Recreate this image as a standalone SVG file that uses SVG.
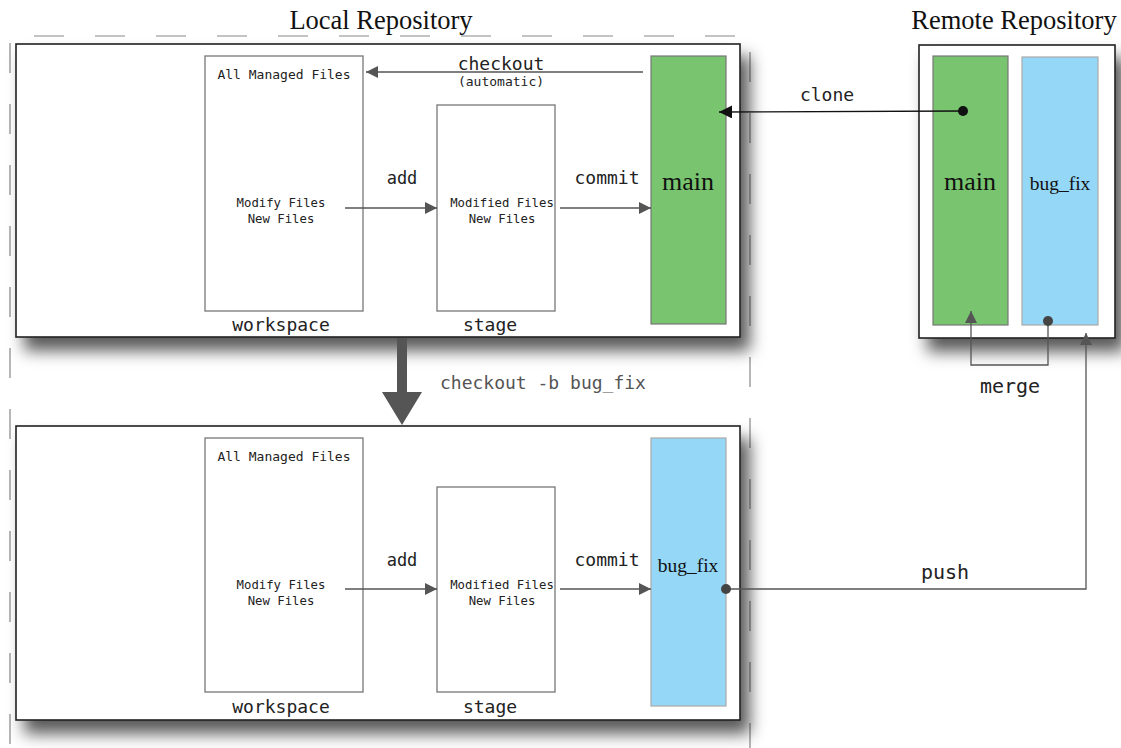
<svg xmlns="http://www.w3.org/2000/svg" width="1121" height="748" viewBox="0 0 1121 748">
<style>
.mono{font-family:"DejaVu Sans Mono",monospace;fill:#222}
.serif{font-family:"Liberation Serif","Times New Roman",serif;fill:#111}
.frame{fill:#fff;stroke:#222;stroke-width:1.6}
.box{fill:#fff;stroke:#777;stroke-width:1.3}
.green{fill:#78c46f;stroke:#777;stroke-width:1.2}
.blue{fill:#94d7f6;stroke:#aaa;stroke-width:1.2}
.conn{fill:none;stroke:#555;stroke-width:1.3}
</style>
<defs>
<filter id="sh" x="-10%" y="-10%" width="130%" height="150%">
<feDropShadow dx="9" dy="13" stdDeviation="8" flood-color="#000" flood-opacity="0.65"/>
</filter>
<marker id="ah" viewBox="0 0 10 10" refX="10" refY="5" markerWidth="12" markerHeight="12" markerUnits="userSpaceOnUse" orient="auto">
<path d="M0,0 L10,5 L0,10 z" fill="#555"/>
</marker>
<marker id="ahk" viewBox="0 0 10 10" refX="10" refY="5" markerWidth="13" markerHeight="13" markerUnits="userSpaceOnUse" orient="auto">
<path d="M0,0 L10,5 L0,10 z" fill="#111"/>
</marker>
<marker id="dot" viewBox="0 0 10 10" refX="5" refY="5" markerWidth="10" markerHeight="10" markerUnits="userSpaceOnUse">
<circle cx="5" cy="5" r="5" fill="#444"/>
</marker>
<marker id="dotk" viewBox="0 0 10 10" refX="5" refY="5" markerWidth="10" markerHeight="10" markerUnits="userSpaceOnUse">
<circle cx="5" cy="5" r="5" fill="#111"/>
</marker>
</defs>
<rect width="1121" height="748" fill="#fff"/>

<g id="local-repository">
<path d="M10,760 L10,36 L750,36 L750,760" fill="none" stroke="#888" stroke-width="1.2" stroke-dasharray="30,31" stroke-dashoffset="-16"/>
<text class="serif" x="381" y="29" font-size="26.5" text-anchor="middle">Local Repository</text>
</g>

<g id="local-main-frame">
<rect class="frame" x="16" y="44" width="724" height="293" filter="url(#sh)"/>
</g>
<g id="local-bugfix-frame">
<rect class="frame" x="16" y="426" width="724" height="294" filter="url(#sh)"/>
</g>

<g id="remote-repository">
<text class="serif" x="1014" y="29" font-size="26.5" text-anchor="middle">Remote Repository</text>
<rect class="frame" x="919" y="45" width="196" height="293" filter="url(#sh)"/>
</g>

<g id="workspace-1">
<rect class="box" x="205" y="56" width="158" height="255"/>
<text class="mono" x="284" y="79" font-size="13" text-anchor="middle">All Managed Files</text>
<text class="mono" x="281" y="207" font-size="12.3" text-anchor="middle">Modify Files</text>
<text class="mono" x="281" y="223" font-size="12.3" text-anchor="middle">New Files</text>
<text class="mono" x="281" y="331" font-size="18" text-anchor="middle">workspace</text>
</g>
<g id="stage-1">
<rect class="box" x="437" y="105" width="118" height="206"/>
<text class="mono" x="502" y="207" font-size="12.3" text-anchor="middle">Modified Files</text>
<text class="mono" x="502" y="223" font-size="12.3" text-anchor="middle">New Files</text>
<text class="mono" x="490" y="331" font-size="18" text-anchor="middle">stage</text>
</g>
<g id="main-local">
<rect class="green" x="651" y="56" width="75" height="268"/>
<text class="serif" x="688" y="190" font-size="26" text-anchor="middle">main</text>
</g>

<g id="workspace-2">
<rect class="box" x="205" y="438" width="158" height="254"/>
<text class="mono" x="284" y="461" font-size="13" text-anchor="middle">All Managed Files</text>
<text class="mono" x="281" y="589" font-size="12.3" text-anchor="middle">Modify Files</text>
<text class="mono" x="281" y="605" font-size="12.3" text-anchor="middle">New Files</text>
<text class="mono" x="281" y="713" font-size="18" text-anchor="middle">workspace</text>
</g>
<g id="stage-2">
<rect class="box" x="437" y="487" width="118" height="205"/>
<text class="mono" x="502" y="589" font-size="12.3" text-anchor="middle">Modified Files</text>
<text class="mono" x="502" y="605" font-size="12.3" text-anchor="middle">New Files</text>
<text class="mono" x="490" y="713" font-size="18" text-anchor="middle">stage</text>
</g>
<g id="bugfix-local">
<rect class="blue" x="651" y="438" width="75" height="268"/>
<text class="serif" x="688" y="572" font-size="19.5" text-anchor="middle">bug_fix</text>
</g>

<g id="main-remote">
<rect class="green" x="933" y="56" width="75" height="269"/>
<text class="serif" x="970" y="190" font-size="26" text-anchor="middle">main</text>
</g>
<g id="bugfix-remote">
<rect class="blue" x="1022" y="57" width="76" height="268"/>
<text class="serif" x="1060" y="190" font-size="19.5" text-anchor="middle">bug_fix</text>
</g>

<g id="connectors">
<line class="conn" x1="643" y1="72" x2="366" y2="72" marker-end="url(#ah)"/>
<text class="mono" x="501" y="70" font-size="18" text-anchor="middle">checkout</text>
<text class="mono" x="501" y="86" font-size="13" text-anchor="middle">(automatic)</text>

<line class="conn" x1="345" y1="208" x2="437" y2="208" marker-end="url(#ah)"/>
<text class="mono" x="402" y="184" font-size="17" text-anchor="middle">add</text>
<line class="conn" x1="560" y1="208" x2="651" y2="208" marker-end="url(#ah)"/>
<text class="mono" x="607" y="184" font-size="18" text-anchor="middle">commit</text>

<line x1="963" y1="111" x2="719" y2="112" stroke="#111" stroke-width="1.3" marker-start="url(#dotk)" marker-end="url(#ahk)"/>
<text class="mono" x="827" y="101" font-size="18" text-anchor="middle">clone</text>

<line class="conn" x1="345" y1="589" x2="437" y2="589" marker-end="url(#ah)"/>
<text class="mono" x="402" y="566" font-size="17" text-anchor="middle">add</text>
<line class="conn" x1="560" y1="589" x2="651" y2="589" marker-end="url(#ah)"/>
<text class="mono" x="607" y="566" font-size="18" text-anchor="middle">commit</text>

<path class="conn" d="M1048,321 L1048,365 L971,365 L971,311" marker-start="url(#dot)" marker-end="url(#ah)"/>
<text class="mono" x="1010" y="393" font-size="20" text-anchor="middle">merge</text>

<path class="conn" d="M726,589 L1086,589 L1086,333" marker-start="url(#dot)" marker-end="url(#ah)"/>
<text class="mono" x="945" y="579" font-size="20" text-anchor="middle">push</text>

<path d="M397,338 L407,338 L407,392 L422,392 L402,425 L382,392 L397,392 z" fill="#555"/>
<text class="mono" x="440" y="389" font-size="18" style="fill:#555">checkout -b bug_fix</text>
</g>
</svg>
